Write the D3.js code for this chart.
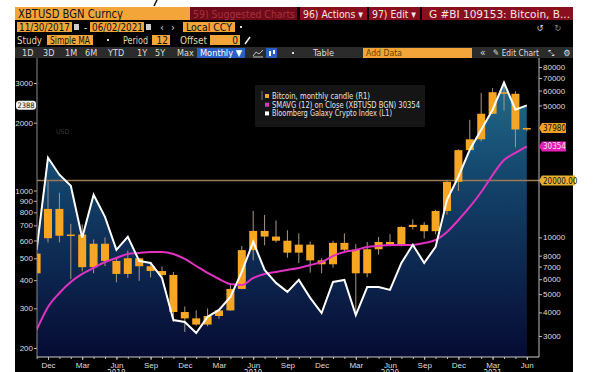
<!DOCTYPE html>
<head>
  <meta charset="utf-8">
  <script src="https://d3js.org/d3.v7.min.js"></script>
  <style>
    body { margin:0; background:#fff; }
    svg { display:block; font-family:"Liberation Sans Narrow","DejaVu Sans Condensed","Liberation Sans",sans-serif; }
    .axis text { font-size:8px; fill:#ddd; }
    .axis line { stroke:#bbb; }
  </style>
</head>
<body>
  <svg id="chart" width="600" height="372"></svg>
  <script>
  // monthly data, Nov 2017 - Jun 2021
  var months = ["2017-11","2017-12","2018-01","2018-02","2018-03","2018-04","2018-05","2018-06","2018-07","2018-08","2018-09","2018-10","2018-11","2018-12","2019-01","2019-02","2019-03","2019-04","2019-05","2019-06","2019-07","2019-08","2019-09","2019-10","2019-11","2019-12","2020-01","2020-02","2020-03","2020-04","2020-05","2020-06","2020-07","2020-08","2020-09","2020-10","2020-11","2020-12","2021-01","2021-02","2021-03","2021-04","2021-05","2021-06"];
  var openVals  = [6450,9900,14150,10200,10350,6950,9250,7500,6400,7750,7030,6630,6320,4020,3720,3450,3830,4100,5330,8560,10820,10100,9600,8300,9150,7550,7200,9350,8600,6450,8650,9450,9150,11350,11650,10780,13800,19700,29000,33100,45200,58800,57700,37300];
  var highVals  = [8300,19800,17250,11800,11700,9750,10000,7750,8500,7770,7400,7000,6560,4300,4100,4200,4100,5600,9000,13800,13150,12300,10900,10500,9500,7750,9600,10500,9200,9450,10050,10400,11450,12450,12050,14000,19900,29300,42000,58300,61800,64900,59500,38200];
  var lowVals   = [6300,9400,9400,6000,6600,6450,7050,5780,6100,5880,6130,6200,3560,3150,3400,3380,3700,4080,5300,7550,9080,9400,7800,7300,6500,6450,6900,8450,3850,6150,8100,8950,8950,11000,9850,10400,13200,17600,28700,32300,45000,47000,30000,36500];
  var closeVals = [8200,14150,10200,10350,6950,9250,7500,6400,7750,7030,6630,6320,4020,3720,3450,3830,4100,5330,8560,10820,10100,9600,8300,9150,7550,7200,9350,8600,6450,8650,9450,9150,11350,11650,10780,13800,19700,29000,33100,45200,58800,57700,37300,37980];
  // SMAVG(12) on close
  var smaVals = [3229,4275,5070,5800,6397,6883,7403,7776,8164,8266,8366,8366,8164,7682,7050,6475,6016,5660,5591,6090,6397,6556,6717,6883,7137,7403,7968,8366,8573,8893,9003,9115,9115,9115,9340,9685,10680,12364,14494,17400,21420,25725,28020,30354];
  // Bloomberg Galaxy Crypto Index (left axis)
  var galaxyVals = [545,1398,1175,1050,617,957,764,545,623,487,477,409,266,261,233,275,295,337,435,592,444,389,355,401,334,286,393,401,280,373,373,362,477,574,477,562,910,1151,1517,1862,2284,3012,2284,2388];

  var leftTicks = [200,300,400,500,600,700,800,900,1000,2000,3000];
  var rightTicks = [3000,4000,5000,6000,7000,8000,10000,50000,60000,70000,80000];
  var monthTicks = ["2017-12","2018-03","2018-06","2018-09","2018-12","2019-03","2019-06","2019-09","2019-12","2020-03","2020-06","2020-09","2020-12","2021-03","2021-06"];
  var yearTicks = ["2018-06","2019-06","2020-06","2021-03"];
  var hLineValue = 20000;

  var parseMonth = d3.timeParse("%Y-%m");
  var fmtMonth = d3.timeFormat("%b");

  var svg = d3.select("#chart");
  var plot = {left: 37, right: 539, top: 58, bottom: 357};

  // panel background
  svg.append("rect").attr("x", 15).attr("y", 7).attr("width", 558).attr("height", 365).attr("fill", "#000");
  svg.append("line").attr("x1", 154).attr("y1", 6).attr("x2", 157).attr("y2", 0).attr("stroke", "#111").attr("stroke-width", 1.5);

  function box(x, y, w, h, fill) {
    return svg.append("rect").attr("x", x).attr("y", y).attr("width", w).attr("height", h).attr("fill", fill);
  }
  function label(x, y, t, color, size, len, anchor) {
    var s = svg.append("text").attr("x", x).attr("y", y).attr("fill", color)
      .style("font-size", size + "px").attr("text-anchor", anchor || "start").text(t);
    if (len) s.attr("textLength", len).attr("lengthAdjust", "spacingAndGlyphs");
    return s;
  }

  var orange = "#f4a53a";
  // row 1
  box(15, 7, 175, 13, orange);
  label(18, 18, "XBTUSD BGN Curncy", "#111", 11.5, 105);
  box(190, 7, 107, 13, "#6e0b18");
  label(193, 18, "59) Suggested Charts", "#a8303f", 11, 102);
  box(300, 7, 67, 13, "#8a0f1e");
  box(369, 7, 51, 13, "#8a0f1e");
  box(422, 7, 151, 13, "#8a0f1e");
  label(303, 18, "96) Actions \u25BE", "#f2e4e4", 11, 60);
  label(372, 18, "97) Edit \u25BE", "#f2e4e4", 11, 44);
  label(429, 18, "G #BI 109153: Bitcoin, B...", "#f2e4e4", 11, 141);

  // row 2
  box(17, 22, 55, 10, orange); label(19, 31, "11/30/2017", "#111", 10, 51);
  box(74, 24, 5, 6, "#ccc");
  label(84, 31, "-", "#ddd", 10);
  box(90, 22, 54, 10, orange); label(92, 31, "06/02/2021", "#111", 10, 51);
  box(146, 24, 5, 6, "#ccc");
  label(160, 31, "\u2039", "#ddd", 11); label(171, 31, "\u203A", "#ddd", 11);
  box(183, 22, 52, 10, orange); label(186, 31, "Local CCY", "#111", 10, 46);
  box(240, 26, 2, 2, "#ddd");
  label(540, 31, "\u21BA", "#ddd", 9, null, "middle");
  label(558, 31, "\u21BB", "#888", 9, null, "middle");

  // row 3
  label(17, 44, "Study", "#e2d2ae", 10, 25);
  box(47, 35, 46, 10, orange); label(50, 44, "Simple MA", "#111", 10, 40);
  box(107, 39, 2, 2, "#ddd");
  label(123, 44, "Period", "#e2d2ae", 10, 25);
  box(152, 35, 18, 10, orange); label(168, 44, "12", "#111", 10, null, "end");
  label(180, 44, "Offset", "#e2d2ae", 10, 27);
  box(210, 35, 30, 10, orange); label(238, 44, "0", "#111", 10, null, "end");
  svg.append("line").attr("x1", 245).attr("y1", 44).attr("x2", 250).attr("y2", 37).attr("stroke", "#eee").attr("stroke-width", 1.5);

  // row 4 toolbar
  box(15, 47, 558, 11, "#2b2b2b");
  [["1D",22],["3D",43],["1M",65],["6M",85],["YTD",108],["1Y",137],["5Y",155],["Max",177]].forEach(function(d) {
    label(d[1], 56, d[0], "#ddd", 9);
  });
  box(197, 48, 48, 10, "#2c5fc4"); label(200, 56, "Monthly \u25BC", "#fff", 9, 42);
  svg.append("path").attr("d", "M253,56 L256,52 L259,54 L263,50 M253,57 L263,57").attr("fill", "none").attr("stroke", "#bbb");
  box(266, 48, 11, 10, "#2c5fc4");
  box(269, 51, 2, 5, "#fff"); box(273, 50, 2, 4, "#fff");
  box(292, 52, 2, 2, "#ddd");
  label(313, 56, "Table", "#ddd", 9, 21);
  box(363, 48, 109, 10, orange); label(366, 56, "Add Data", "#6b3d00", 9, 36);
  label(480, 56, "\u00AB", "#ddd", 10);
  label(493, 56, "\u270E Edit Chart", "#ddd", 9, 46);
  label(548, 56, "\u2921", "#ddd", 8);
  label(567, 56, "\u2699", "#ddd", 9, null, "middle");

  // scales
  var x = d3.scalePoint().domain(months).range([36.6, 526.8]);
  var yR = d3.scaleLog().domain([3000, 80000]).range([336, 67]);
  var yL = d3.scaleLog().domain([200, 3000]).range([348, 83]);

  var defs = svg.append("defs");
  var grad = defs.append("linearGradient").attr("id", "areaGrad")
    .attr("gradientUnits", "userSpaceOnUse").attr("x1", 0).attr("y1", 70).attr("x2", 0).attr("y2", plot.bottom);
  grad.append("stop").attr("offset", "0%").attr("stop-color", "#21708f");
  grad.append("stop").attr("offset", "45%").attr("stop-color", "#123d65");
  grad.append("stop").attr("offset", "100%").attr("stop-color", "#060b33");
  defs.append("clipPath").attr("id", "plotClip").append("rect")
    .attr("x", plot.left).attr("y", plot.top).attr("width", plot.right - plot.left).attr("height", plot.bottom - plot.top);

  var series = months.map(function(m, i) {
    return {m: m, o: openVals[i], h: highVals[i], l: lowVals[i], c: closeVals[i], sma: smaVals[i], g: galaxyVals[i]};
  });

  var g = svg.append("g").attr("clip-path", "url(#plotClip)");

  var area = d3.area().x(function(d) { return x(d.m); }).y0(plot.bottom).y1(function(d) { return yL(d.g); });
  g.append("path").datum(series).attr("d", area).attr("fill", "url(#areaGrad)");

  // 20000 reference line
  g.append("line").attr("x1", plot.left).attr("x2", plot.right)
    .attr("y1", yR(hLineValue)).attr("y2", yR(hLineValue))
    .attr("stroke", "#9c7a55").attr("stroke-width", 1.5);

  // candles
  g.selectAll(".wick").data(series).enter().append("line")
    .attr("x1", function(d) { return x(d.m); }).attr("x2", function(d) { return x(d.m); })
    .attr("y1", function(d) { return yR(d.h); }).attr("y2", function(d) { return yR(d.l); })
    .attr("stroke", "#a89784").attr("stroke-width", 1);
  g.selectAll(".body").data(series).enter().append("rect")
    .attr("x", function(d) { return x(d.m) - 4; }).attr("width", 8)
    .attr("y", function(d) { return yR(Math.max(d.o, d.c)); })
    .attr("height", function(d) { return Math.max(1.5, Math.abs(yR(d.o) - yR(d.c))); })
    .attr("fill", "#f7a623");

  var smaLine = d3.line().curve(d3.curveMonotoneX).x(function(d) { return x(d.m); }).y(function(d) { return yR(d.sma); });
  g.append("path").datum(series).attr("d", smaLine).attr("fill", "none").attr("stroke", "#e232c2").attr("stroke-width", 2);

  var gLine = d3.line().x(function(d) { return x(d.m); }).y(function(d) { return yL(d.g); });
  g.append("path").datum(series).attr("d", gLine).attr("fill", "none").attr("stroke", "#fff").attr("stroke-width", 2);

  // faint tag on the left
  label(56, 134, "USD", "#3a3a3a", 7);

  // axes
  var leftAxis = svg.append("g").attr("class", "axis").attr("transform", "translate(" + plot.left + ",0)")
    .call(d3.axisLeft(yL).tickValues(leftTicks).tickFormat(d3.format("d")).tickSize(3).tickPadding(1));
  leftAxis.select(".domain").remove();
  svg.append("line").attr("x1", plot.left).attr("x2", plot.left).attr("y1", plot.top).attr("y2", plot.bottom).attr("stroke", "#8a8a8a");

  var rightAxis = svg.append("g").attr("class", "axis").attr("transform", "translate(" + plot.right + ",0)")
    .call(d3.axisRight(yR).tickValues(rightTicks).tickFormat(d3.format("d")).tickSize(3).tickPadding(1));
  rightAxis.select(".domain").remove();
  svg.append("line").attr("x1", plot.right).attr("x2", plot.right).attr("y1", plot.top).attr("y2", plot.bottom).attr("stroke", "#bbb");

  var minorAxis = svg.append("g").attr("class", "axis").attr("transform", "translate(0," + plot.bottom + ")")
    .call(d3.axisBottom(x).tickSize(2).tickFormat(""));
  minorAxis.select(".domain").remove();
  var bottomAxis = svg.append("g").attr("class", "axis").attr("transform", "translate(0," + plot.bottom + ")")
    .call(d3.axisBottom(x).tickValues(monthTicks).tickSize(3).tickPadding(2)
      .tickFormat(function(m) { return fmtMonth(parseMonth(m)); }));
  bottomAxis.select(".domain").remove();
  svg.append("line").attr("x1", plot.left).attr("x2", plot.right).attr("y1", plot.bottom).attr("y2", plot.bottom).attr("stroke", "#ccc");
  // year labels sit at the bottom edge, half cut as in the reference
  svg.selectAll(".yearLabel").data(yearTicks).enter().append("text")
    .attr("x", function(m) { return x(m); }).attr("y", 375.5).attr("text-anchor", "middle")
    .attr("fill", "#ddd").style("font-size", "8px")
    .text(function(m) { return m.slice(0, 4); });

  // last value tags
  function tag(yPos, w, fill, textColor, t) {
    svg.append("path").attr("d", "M" + plot.right + "," + yPos + " l3,-5 h" + w + " v10 h-" + w + " z").attr("fill", fill);
    svg.append("text").attr("x", plot.right + 4).attr("y", yPos + 3).attr("fill", textColor).style("font-size", "8px").text(t);
  }
  tag(yR(closeVals[closeVals.length - 1]), 24, "#f5a020", "#111", d3.format("d")(closeVals[closeVals.length - 1]));
  tag(yR(smaVals[smaVals.length - 1]), 24, "#e020b4", "#fde", d3.format("d")(smaVals[smaVals.length - 1]));
  tag(yR(hLineValue), 33, "#e8b030", "#111", d3.format(".2f")(hLineValue));
  var lastG = galaxyVals[galaxyVals.length - 1];
  svg.append("rect").attr("x", 16).attr("y", yL(lastG) - 4.5).attr("width", 20).attr("height", 9).attr("rx", 3).attr("fill", "#f4f4f4");
  svg.append("text").attr("x", 26).attr("y", yL(lastG) + 3).attr("text-anchor", "middle").attr("fill", "#111").style("font-size", "7.5px").text(d3.format("d")(lastG));

  // legend
  svg.append("rect").attr("x", 255).attr("y", 85).attr("width", 170).attr("height", 42).attr("fill", "#151515");
  svg.append("line").attr("x1", 262).attr("x2", 262).attr("y1", 91).attr("y2", 100).attr("stroke", "#777");
  var legendItems = [
    {color: "#f7a623", text: "Bitcoin, monthly candle (R1)", len: 98},
    {color: "#e232c2", text: "SMAVG (12)  on Close (XBTUSD BGN) 30354", len: 148},
    {color: "#ffffff", text: "Bloomberg Galaxy Crypto Index (L1)", len: 120}
  ];
  legendItems.forEach(function(d, i) {
    var yy = 96 + i * 8.7;
    svg.append("rect").attr("x", 265).attr("y", yy - 2).attr("width", 4).attr("height", 4).attr("fill", d.color);
    svg.append("text").attr("x", 272).attr("y", yy + 2.8).attr("fill", "#e4e4e4").style("font-size", "8.5px")
      .attr("textLength", d.len).attr("lengthAdjust", "spacingAndGlyphs").text(d.text);
  });
  </script>
</body>
